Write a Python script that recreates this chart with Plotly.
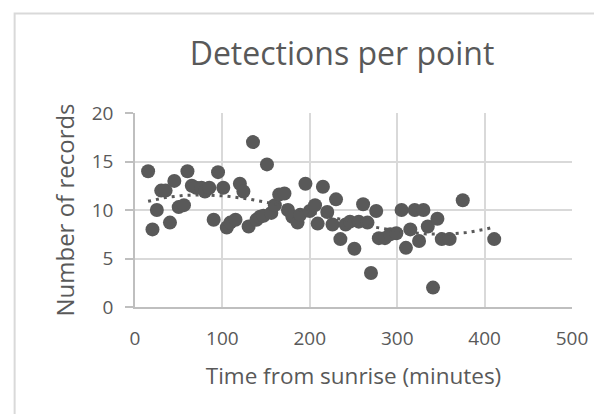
import numpy as np
import plotly.graph_objects as go

# Time from sunrise (minutes) and number of records per point count
time_min = [15, 20, 25, 30, 35, 40, 45, 50, 56, 60, 65, 70, 76, 80, 85, 90, 95,
            101, 105, 109, 115, 120, 124, 130, 135, 139, 143, 147, 151, 156, 160,
            165, 171, 175, 180, 186, 189, 195, 200, 206, 209, 215, 220, 226, 230,
            235, 241, 246, 251, 256, 261, 266, 270, 276, 279, 286, 292, 299, 305,
            310, 315, 320, 325, 330, 335, 341, 346, 351, 360, 375, 411]
records = [14, 8, 10, 12, 12, 8.7, 13, 10.3, 10.5, 14, 12.5, 12.3, 12.3, 11.9,
           12.3, 9, 13.9, 12.3, 8.2, 8.7, 9, 12.7, 11.9, 8.3, 17, 9, 9.3, 9.4,
           14.7, 9.7, 10.5, 11.6, 11.7, 10, 9.3, 8.7, 9.5, 12.7, 9.9, 10.5, 8.6,
           12.4, 9.8, 8.5, 11.1, 7, 8.5, 8.8, 6, 8.8, 10.6, 8.7, 3.5, 9.9, 7.1,
           7.1, 7.5, 7.6, 10, 6.1, 8, 10, 6.8, 10, 8.3, 2, 9.1, 7, 7, 11, 7]

x_ticks = [0, 100, 200, 300, 400, 500]
y_ticks = [0, 5, 10, 15, 20]

GREY_TEXT = "#595959"
MARK = "#595959"
GRID = "#d9d9d9"
AXIS = "#bfbfbf"
FONT = "Open Sans"

# cubic polynomial trendline fitted to the data (as the spreadsheet trendline)
coef = np.polyfit(time_min, records, 3)
trend_x = np.linspace(min(time_min), max(time_min), 200)
trend_y = np.polyval(coef, trend_x)

fig = go.Figure()
fig.add_trace(go.Scatter(
    x=time_min, y=records, mode="markers",
    marker=dict(size=14, color=MARK, line=dict(width=0)),
    name="Records", showlegend=False, hoverinfo="x+y"))
fig.add_trace(go.Scatter(
    x=trend_x, y=trend_y, mode="lines",
    line=dict(color=MARK, width=3, dash="3px,5px"),
    name="Trend", showlegend=False, hoverinfo="skip"))

fig.update_layout(
    width=602, height=414,
    margin=dict(l=127, r=37.5, t=105, b=115, autoexpand=False),
    paper_bgcolor="white", plot_bgcolor="white",
    font=dict(family=FONT, color=GREY_TEXT, size=19),
    title=dict(text="Detections per point", x=334/602, xanchor="center",
               y=1 - 46/414, yanchor="middle", yref="container",
               font=dict(family=FONT, size=32, color=GREY_TEXT)),
    xaxis=dict(range=[0, 500], tickvals=x_ticks, ticktext=[str(v) for v in x_ticks],
               showgrid=True, gridcolor=GRID, gridwidth=1.5,
               showline=True, linecolor=AXIS, linewidth=2,
               ticks="", zeroline=False, ticklabelstandoff=13,
               tickfont=dict(size=19, color=GREY_TEXT, family=FONT),
               title=dict(text="Time from sunrise (minutes)", standoff=18,
                          font=dict(size=22.5, color=GREY_TEXT, family=FONT))),
    yaxis=dict(range=[0, 20], tickvals=y_ticks, ticktext=[str(v) for v in y_ticks],
               showgrid=True, gridcolor=GRID, gridwidth=1.5,
               showline=True, linecolor=AXIS, linewidth=1.5,
               ticks="outside", ticklen=8, tickcolor=AXIS, tickwidth=1.5,
               zeroline=False, ticklabelstandoff=8,
               tickfont=dict(size=19, color=GREY_TEXT, family=FONT),
               title=dict(text="Number of records", standoff=10,
                          font=dict(size=24, color=GREY_TEXT, family=FONT))),
    shapes=[dict(type="rect", xref="paper", yref="paper",
                 x0=(6.5 - 127) / 437.5, x1=2.0, y0=-2.0, y1=(299 - 5.5) / 194,
                 line=dict(color=GRID, width=2), fillcolor="rgba(0,0,0,0)", layer="below")],
)

fig.write_html("out.html")
